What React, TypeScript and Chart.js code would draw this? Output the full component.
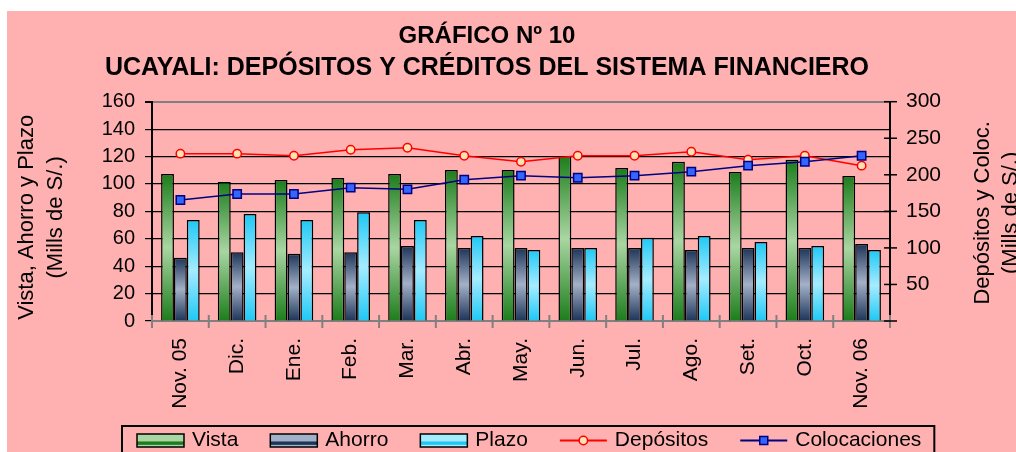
import React, { useEffect, useRef } from 'react';
import { Chart, registerables } from 'chart.js';

Chart.register(...registerables);

// ---------- data ----------
const categories = ['Nov. 05', 'Dic.', 'Ene.', 'Feb.', 'Mar.', 'Abr.', 'May.', 'Jun.', 'Jul.', 'Ago.', 'Set.', 'Oct.', 'Nov. 06'];
const vista = [107.2, 101.4, 102.9, 104.3, 107.2, 110.2, 110.2, 120.4, 111.6, 116.2, 108.7, 117.7, 105.8];
const ahorro = [46.2, 50.1, 49.1, 50.1, 54.7, 53.3, 53.3, 53.3, 53.3, 51.8, 53.3, 53.3, 56.2];
const plazo = [73.7, 78.1, 73.7, 79.3, 73.7, 62.0, 51.8, 53.3, 60.8, 62.0, 57.6, 54.7, 51.8];
const depositos = [228.9, 228.9, 226.1, 234.3, 237.1, 226.1, 217.9, 226.1, 226.1, 231.6, 220.7, 226.1, 212.5];
const colocaciones = [165.5, 173.7, 173.7, 182.4, 180.1, 193.3, 198.8, 196.0, 198.8, 204.3, 212.5, 217.9, 226.1];

const leftAxisMin = 0;
const leftAxisMax = 160;
const leftAxisStep = 20;
const rightAxisMin = 0;
const rightAxisMax = 300;
const rightAxisStep = 50;

const titleText = 'GRÁFICO Nº 10';
const subtitleText = 'UCAYALI: DEPÓSITOS Y CRÉDITOS DEL SISTEMA FINANCIERO';
const leftAxisTitle = ['Vista, Ahorro y Plazo', '(Mills de S/.)'];
const rightAxisTitle = ['Depósitos y Coloc.', '(Mills de S/.)'];
const seriesLabels = ['Vista', 'Ahorro', 'Plazo', 'Depósitos', 'Colocaciones'];

// ---------- styles ----------
const FONT = '"Liberation Sans", Arial, Helvetica, sans-serif';
const BG = '#ffb0b0';
const barStyles = [
  { edge: '#1b7d1b', mid: '#a9d6a2' },
  { edge: '#1c3458', mid: '#a3b1c8' },
  { edge: '#1ec8f5', mid: '#a5ecff' },
];
const depStyle = { line: '#ff0000', fill: '#ffe2b4' };
const colStyle = { line: '#000080', fill: '#3366ff' };

function barGradient(s: { edge: string; mid: string }) {
  return (c: any) => {
    const chart = c.chart;
    const yScale = chart.scales && chart.scales.y;
    if (c.type !== 'data' || !yScale || !chart.chartArea) return s.mid;
    const v = typeof c.raw === 'number' ? c.raw : 0;
    const top = yScale.getPixelForValue(v);
    const bottom = yScale.getPixelForValue(0);
    if (!isFinite(top) || !isFinite(bottom) || top === bottom) return s.mid;
    const g = chart.ctx.createLinearGradient(0, top, 0, bottom);
    g.addColorStop(0, s.edge);
    g.addColorStop(0.5, s.mid);
    g.addColorStop(1, s.edge);
    return g;
  };
}

function drawSwatchBox(ctx: CanvasRenderingContext2D, x: number, y: number, w: number, h: number, s: { edge: string; mid: string }) {
  const g = ctx.createLinearGradient(0, y, 0, y + h);
  g.addColorStop(0, s.mid);
  g.addColorStop(0.55, s.mid);
  g.addColorStop(0.6, s.edge);
  g.addColorStop(0.8, s.edge);
  g.addColorStop(0.85, s.mid);
  g.addColorStop(1, s.mid);
  ctx.fillStyle = g;
  ctx.fillRect(x, y, w, h);
  ctx.strokeStyle = '#000';
  ctx.lineWidth = 1.5;
  ctx.strokeRect(x, y, w, h);
}

const decorPlugin = {
  id: 'decor',
  afterDatasetsDraw(chart: any) {
    const { ctx, scales } = chart;
    const xs = scales.x;
    const y1 = scales.y1;
    ctx.save();
    // gray crossing tick marks at category boundaries
    ctx.strokeStyle = '#808080';
    ctx.lineWidth = 2;
    for (let i = 0; i <= categories.length; i++) {
      const px = xs.getPixelForValue(i - 0.5);
      ctx.beginPath();
      ctx.moveTo(px, xs.top - 6);
      ctx.lineTo(px, xs.top + 7);
      ctx.stroke();
    }
    // right axis crossing ticks
    ctx.strokeStyle = '#000';
    ctx.lineWidth = 1.5;
    y1.ticks.forEach((t: any) => {
      const py = y1.getPixelForValue(t.value);
      ctx.beginPath();
      ctx.moveTo(y1.left - 6, py);
      ctx.lineTo(y1.left + 7, py);
      ctx.stroke();
    });
    ctx.restore();
  },
  afterDraw(chart: any) {
    const ctx: CanvasRenderingContext2D = chart.ctx;
    const area = chart.chartArea;
    const cy = (area.top + area.bottom) / 2;
    ctx.save();
    ctx.fillStyle = '#000';
    ctx.font = `22px ${FONT}`;
    ctx.textAlign = 'center';
    ctx.textBaseline = 'middle';
    // left axis title
    ctx.save();
    ctx.translate(19.5, cy + 6);
    ctx.rotate(-Math.PI / 2);
    leftAxisTitle.forEach((t, i) => ctx.fillText(t, 0, i * 29.5));
    ctx.restore();
    // right axis title
    ctx.save();
    ctx.translate(976, cy + 1.5);
    ctx.rotate(-Math.PI / 2);
    rightAxisTitle.forEach((t, i) => ctx.fillText(t, 0, i * 27.5));
    ctx.restore();

    // legend
    ctx.font = `21px ${FONT}`;
    ctx.textAlign = 'left';
    ctx.textBaseline = 'middle';
    const startX = 130;
    const sy = 423;
    const sh = 13;
    const sw = 47;
    const lcy = sy + sh / 2;
    let x = startX;
    let endX = x;
    chart.data.datasets.forEach((ds: any, i: number) => {
      if (i < 3) {
        drawSwatchBox(ctx, x, sy, sw, sh, barStyles[i]);
      } else {
        const st = i === 3 ? depStyle : colStyle;
        ctx.strokeStyle = st.line;
        ctx.lineWidth = 2;
        ctx.beginPath();
        ctx.moveTo(x, lcy);
        ctx.lineTo(x + sw, lcy);
        ctx.stroke();
        ctx.fillStyle = st.fill;
        ctx.lineWidth = 1.5;
        if (i === 3) {
          ctx.beginPath();
          ctx.arc(x + sw / 2, lcy, 4.2, 0, Math.PI * 2);
          ctx.fill();
          ctx.stroke();
        } else {
          ctx.fillRect(x + sw / 2 - 4, lcy - 4, 8, 8);
          ctx.strokeRect(x + sw / 2 - 4, lcy - 4, 8, 8);
        }
      }
      const tx = x + sw + 8;
      ctx.fillStyle = '#000';
      ctx.fillText(ds.label, tx, lcy);
      const w = ctx.measureText(ds.label).width;
      endX = tx + w;
      x = tx + w + 32;
    });
    ctx.strokeStyle = '#000';
    ctx.lineWidth = 2;
    ctx.strokeRect(startX - 15, 415, endX + 13 - (startX - 15), 40);
    ctx.restore();
  },
};

export default function App() {
  const canvasRef = useRef<HTMLCanvasElement | null>(null);

  useEffect(() => {
    const canvas = canvasRef.current;
    if (!canvas) return;
    Chart.defaults.font.family = FONT;
    Chart.defaults.color = '#000';

    const chart = new Chart(canvas, {
      type: 'bar',
      data: {
        labels: categories,
        datasets: [
          { label: seriesLabels[0], data: vista, backgroundColor: barGradient(barStyles[0]), borderColor: '#000', borderWidth: 1.5, yAxisID: 'y', order: 2, categoryPercentage: 0.68, barPercentage: 1 },
          { label: seriesLabels[1], data: ahorro, backgroundColor: barGradient(barStyles[1]), borderColor: '#000', borderWidth: 1.5, yAxisID: 'y', order: 2, categoryPercentage: 0.68, barPercentage: 1 },
          { label: seriesLabels[2], data: plazo, backgroundColor: barGradient(barStyles[2]), borderColor: '#000', borderWidth: 1.5, yAxisID: 'y', order: 2, categoryPercentage: 0.68, barPercentage: 1 },
          { type: 'line', label: seriesLabels[3], data: depositos, yAxisID: 'y1', borderColor: depStyle.line, borderWidth: 1.5, tension: 0, pointRadius: 4.2, pointBackgroundColor: depStyle.fill, pointBorderColor: depStyle.line, pointBorderWidth: 1.5, order: 1 },
          { type: 'line', label: seriesLabels[4], data: colocaciones, yAxisID: 'y1', borderColor: colStyle.line, borderWidth: 1.5, tension: 0, pointStyle: 'rect', pointRadius: 5.9, pointBackgroundColor: colStyle.fill, pointBorderColor: colStyle.line, pointBorderWidth: 1.5, order: 0 },
        ] as any,
      },
      options: {
        responsive: false,
        animation: false,
        layout: { padding: { left: 0, right: 49, top: 0, bottom: 0 } },
        plugins: {
          legend: { display: false },
          tooltip: { enabled: false },
          title: {
            display: true,
            text: titleText,
            color: '#000',
            font: { family: FONT, size: 24, weight: 'bold', lineHeight: 1.3 },
            padding: { top: 9.4, bottom: 0 },
          },
          subtitle: {
            display: true,
            text: subtitleText,
            color: '#000',
            font: { family: FONT, size: 25, weight: 'bold', lineHeight: 1.3 },
            padding: { top: 0, bottom: 17.6 },
          },
        },
        scales: {
          x: {
            grid: { display: false, drawTicks: false },
            border: { display: true, color: '#808080', width: 2 },
            ticks: { autoSkip: false, minRotation: 90, maxRotation: 90, padding: 17, color: '#000', font: { family: FONT, size: 21 } },
            afterFit: (s: any) => { s.height = 131; },
          },
          y: {
            position: 'left',
            min: leftAxisMin,
            max: leftAxisMax,
            ticks: { stepSize: leftAxisStep, padding: 10, color: '#000', font: { family: FONT, size: 20 } },
            grid: {
              color: (c: any) => (c.tick && (c.tick.value === leftAxisMax || c.tick.value === leftAxisMin) ? '#808080' : '#000'),
              lineWidth: (c: any) => (c.tick && c.tick.value === leftAxisMax ? 2 : 1.2),
              tickColor: '#000',
              tickLength: 7,
              drawTicks: true,
            },
            border: { display: true, color: '#000', width: 2 },
            afterFit: (s: any) => { s.width = 145; },
          },
          y1: {
            position: 'right',
            min: rightAxisMin,
            max: rightAxisMax,
            ticks: { stepSize: rightAxisStep, padding: 16, color: '#000', font: { family: FONT, size: 21 }, callback: (v: any) => (v === 0 ? '' : String(v)) },
            grid: { display: false, drawTicks: false, drawOnChartArea: false },
            border: { display: true, color: '#000', width: 2 },
            afterFit: (s: any) => { s.width = 77; },
          },
        },
      } as any,
      plugins: [decorPlugin as any],
    });
    return () => chart.destroy();
  }, []);

  return (
    <div style={{ position: 'absolute', left: 7, top: 11, width: 1009, height: 441, background: BG, overflow: 'hidden' }}>
      <canvas ref={canvasRef} width={1009} height={441} style={{ display: 'block' }} />
    </div>
  );
}
